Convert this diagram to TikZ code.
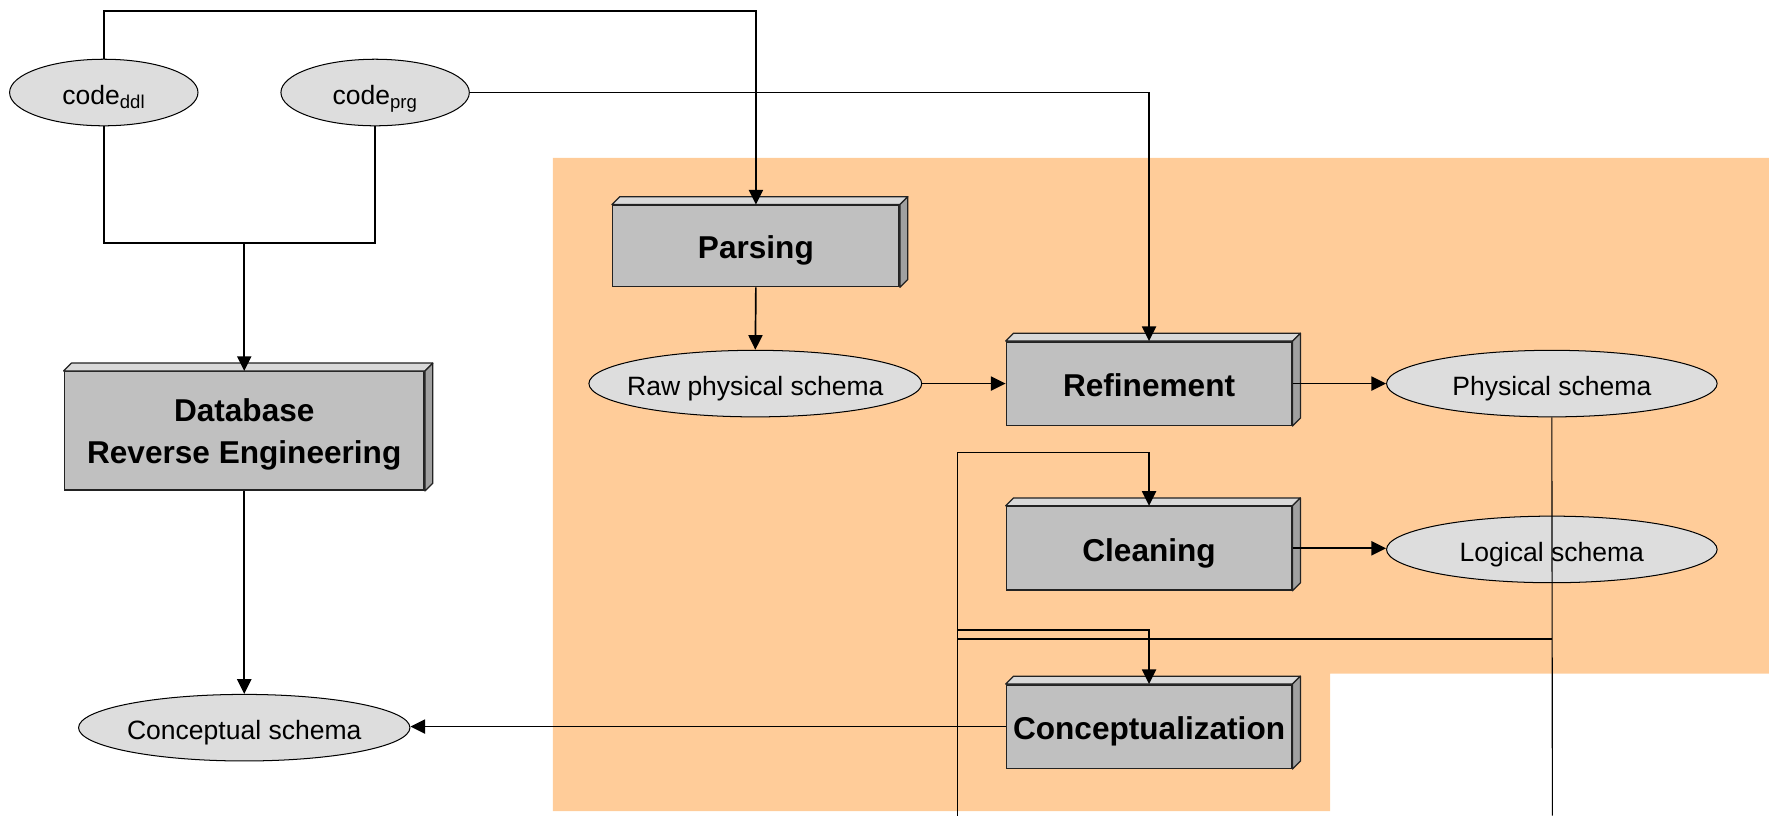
\documentclass[tikz,border=0pt]{standalone}
\usepackage{fontspec}
\setmainfont{Liberation Sans}
\usetikzlibrary{shapes.geometric,arrows.meta,calc}
\definecolor{peach}{HTML}{FFCC99}
\definecolor{boxfront}{HTML}{C0C0C0}
\definecolor{boxtop}{HTML}{D9D9D9}
\definecolor{boxside}{HTML}{A0A0A0}
\definecolor{ovalfill}{HTML}{DDDDDD}
\definecolor{edge}{HTML}{222222}
\begin{document}
\begin{tikzpicture}[x=1pt,y=-1pt,
  oval/.style={ellipse, draw=black, line width=0.9pt, fill=ovalfill, inner sep=0pt,
    minimum width=293pt, minimum height=59pt, text height=21pt, text depth=0pt,
    font=\fontsize{23.5}{28}\selectfont},
  stepbox/.style={rectangle, draw=edge, line width=1.3pt, fill=boxfront, inner sep=0pt,
    minimum width=253pt, minimum height=74pt, align=center,
    text height=23pt, text depth=0pt,
    font=\fontsize{28}{37}\selectfont\bfseries},
  face/.style={draw=edge, line width=1.1pt, line join=round},
  wire/.style={draw=black, line width=1.5pt},
  thinwire/.style={draw=black, line width=1pt},
  arr/.style={wire, -{Triangle[length=13pt,width=12.5pt]}},
]
\useasboundingbox (0,0) rectangle (1568,723);

% shaded working area
\fill[peach] (490,140) -- (1568,140) -- (1568,597) -- (1179,597)
  -- (1179,719) -- (490,719) -- cycle;

% source code inputs
\node[oval, minimum width=167pt] (ddl) at (92,82) {code\textsubscript{ddl}};
\node[oval, minimum width=167pt] (prg) at (332.5,82) {code\textsubscript{prg}};

% process steps
\node[stepbox, minimum width=254pt, minimum height=72pt] (parse) at (670,218) {Parsing};
\node[stepbox] (refine) at (1018.5,340) {Refinement};
\node[stepbox] (clean) at (1018.5,486) {Cleaning};
\node[stepbox] (concept) at (1018.5,644) {Conceptualization};
\node[stepbox, minimum width=319pt, minimum height=105pt, text height=, text depth=-14pt]
  (dre) at (216.5,382) {Database\\Reverse Engineering};

% schemas
\node[oval, minimum width=295pt, inner xsep=-25pt] (raw) at (669.5,340) {Raw physical schema};
\node[oval] (phys) at (1375.5,340) {Physical schema};
\node[oval] (logic) at (1375.5,487) {Logical schema};
\node[oval] (conc) at (216.5,645) {Conceptual schema};

% top and side faces of the step boxes
\foreach \b in {parse,refine,clean,concept,dre}{
  \draw[face, fill=boxtop] (\b.north west) -- ++(7,-7)
    -- ($(\b.north east)+(7,-7)$) -- (\b.north east) -- cycle;
  \draw[face, fill=boxside] (\b.north east) -- ++(7,-7)
    -- ($(\b.south east)+(7,-7)$) -- (\b.south east) -- cycle;
}

% routing points
\coordinate (topbus) at (380,9.5);
\coordinate (join) at (216.5,215.5);
\coordinate (c1) at (849,401);
\coordinate (c2) at (849,558.5);
\coordinate (c3) at (849,566.5);
\coordinate (bl) at (849,723);
\coordinate (pb) at (1376,723);

% connectors
\draw[arr] (ddl.north) |- (topbus) -| (parse.north);
\draw[arr] (prg.east) -| (refine.north);
\draw[wire] (ddl.south) |- (join) -| (prg.south);
\draw[arr] (join) -- (dre.north);
\draw[arr] (dre.south) -- (conc.north);
\draw[arr] (parse.south) -- (raw.north);
\draw[arr] (raw.east) -- (refine.west);
\draw[arr] (refine.east) -- (phys.west);
\draw[arr] (clean.east) -- (clean.east -| logic.west);
\draw[arr] (concept.west) -- (concept.west -| conc.east);

\draw[thinwire] (c1) -- (bl);
\draw[arr] (c1) -| (clean.north);
\draw[arr] (c2) -| (concept.north);
\draw[thinwire] (phys.south) -- (pb);
\draw[wire] (c3) -- (c3 -| phys.south);
\end{tikzpicture}
\end{document}
